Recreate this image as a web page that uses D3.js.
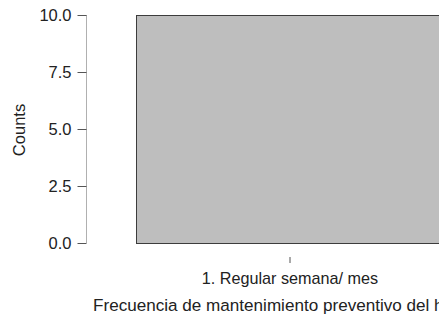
<!DOCTYPE html>
<html><head><meta charset="utf-8">
<script src="https://cdn.jsdelivr.net/npm/d3@7"></script>
<style>body{margin:0;background:#fff;overflow:hidden}text{font-family:"Liberation Sans",Arial,sans-serif;fill:#222}</style>
</head><body>
<script>
const categories = ["1. Regular semana/ mes"];
const counts = [10];
const yTicks = [0, 2.5, 5, 7.5, 10];
const xTitle = "Frecuencia de mantenimiento preventivo del hospital";
const yTitle = "Counts";

const W = 439, H = 320;
const FS = 16.2;
const svg = d3.select("body").append("svg").attr("width", W).attr("height", H);

const y = d3.scaleLinear().domain([0, 10]).range([243, 15]);
const x = d3.scaleBand().domain(categories).range([136, 444]).padding(0);

// bar
svg.selectAll("rect.bar").data(counts).enter().append("rect")
  .attr("x", (d, i) => x(categories[i]) + 0.5)
  .attr("y", d => y(d) + 0.5)
  .attr("width", x.bandwidth())
  .attr("height", d => y(0) - y(d))
  .attr("fill", "#bebebe").attr("stroke", "#3c3c3c").attr("stroke-width", 1);

// y axis
const yAxis = d3.axisLeft(y).tickValues(yTicks).tickFormat(d3.format(".1f")).tickSize(9).tickPadding(6);
const gy = svg.append("g").attr("transform", "translate(86.5,0)").call(yAxis);
gy.select(".domain").attr("stroke", "#b0b0b0").attr("d", "M0,15V243");
gy.selectAll(".tick line").attr("stroke", "#555");
gy.selectAll(".tick text").attr("font-size", 16.5).style("fill", "#222").attr("font-family", "Liberation Sans, Arial, sans-serif");

// x axis
const xAxis = d3.axisBottom(x).tickSize(6).tickPadding(9);
const gx = svg.append("g").attr("transform", "translate(0,257)").call(xAxis);
gx.select(".domain").remove();
gx.selectAll(".tick line").attr("stroke", "#555");
gx.selectAll(".tick text").attr("font-size", FS).style("fill", "#222").attr("font-family", "Liberation Sans, Arial, sans-serif");

svg.append("text").attr("x", 93).attr("y", 311)
  .attr("text-anchor", "start").attr("font-size", 17.1).text(xTitle);
svg.append("text").attr("transform", "translate(25,130) rotate(-90)")
  .attr("text-anchor", "middle").attr("font-size", 16.5).text(yTitle);
</script>
</body></html>
